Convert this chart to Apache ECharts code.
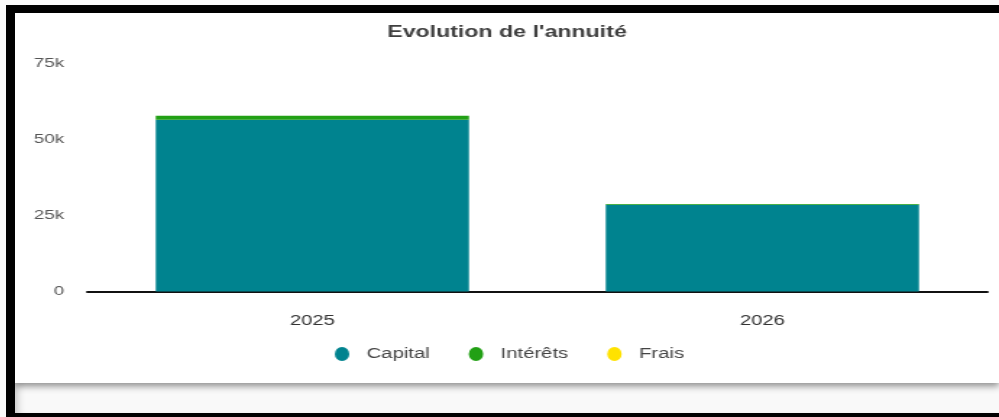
<!DOCTYPE html>
<html>
<head>
<meta charset="utf-8">
<script src="https://cdn.jsdelivr.net/npm/echarts@6/dist/echarts.min.js"></script>
<style>
  html, body { margin: 0; padding: 0; }
  body { width: 999px; height: 417px; background: #fafafa; position: relative; overflow: hidden; }
  #frame {
    position: absolute; left: 6px; top: 5px; width: 1000px; height: 400px;
    border-top: 8px solid #000; border-left: 9px solid #000; border-bottom: 4px solid #000;
    background: #f9f9f9;
    box-shadow: inset 8px 0 8px -6px rgba(0,0,0,0.25);
  }
  #card {
    position: absolute; left: 15px; top: 13px; width: 984px; height: 370px;
    background: #fff; box-shadow: 0 3px 7px rgba(0,0,0,0.45);
    overflow: hidden;
  }
  #chart {
    position: absolute; left: 0; top: 0; width: 680px; height: 370px;
    transform-origin: 0 0; transform: scaleX(1.447);
  }
</style>
</head>
<body>
<div id="frame"></div>
<div id="card"><div id="chart"></div></div>
<script>
// Annual repayment split per year
const years = ['2025', '2026'];
const capital = [56500, 28500];
const interets = [1300, 300];
const frais = [0, 0];
const seriesNames = ['Capital', 'Intérêts', 'Frais'];
const seriesColors = ['#00838f', '#22a015', '#ffe200'];
const yMin = 0, yMax = 75000, yStep = 25000;

// round legend marker (drawn narrow, the chart is widened by CSS)
const dot = 'path://M50,0A50,50,0,1,1,50,100A50,50,0,1,1,50,0Z';
const font = "'Liberation Sans', Arial, sans-serif";

const chart = echarts.init(document.getElementById('chart'), null, { renderer: 'canvas' });
const values = [capital, interets, frais];

chart.setOption({
  animation: false,
  textStyle: { fontFamily: font },
  title: {
    text: "Evolution de l'annuité",
    left: 'center', top: 7,
    textStyle: { fontFamily: font, fontSize: 16, fontWeight: 'bold', color: '#404040' }
  },
  legend: {
    data: seriesNames.map(n => ({ name: n, icon: dot })),
    left: 216, top: 329,
    itemWidth: 10, itemHeight: 14, itemGap: 27,
    symbolKeepAspect: false,
    textStyle: { fontFamily: font, fontSize: 14, color: '#444', padding: [0, 0, 0, 7] }
  },
  grid: { left: 50, right: 8, top: 50.5, bottom: 91.5, containLabel: false },
  xAxis: {
    type: 'category',
    data: years,
    axisLine: { show: true, lineStyle: { color: '#111', width: 2 } },
    axisTick: { show: false },
    axisLabel: { margin: 23, fontFamily: font, fontSize: 14, color: '#333' }
  },
  yAxis: {
    type: 'value',
    min: yMin, max: yMax, interval: yStep,
    axisLine: { show: false },
    axisTick: { show: false },
    splitLine: { show: false },
    axisLabel: {
      margin: 16, fontFamily: font, fontSize: 13, color: '#555',
      formatter: v => v === 0 ? '0' : (v / 1000) + 'k'
    }
  },
  series: seriesNames.map((n, i) => ({
    name: n,
    type: 'bar',
    stack: 'annuite',
    barCategoryGap: '30.4%',
    itemStyle: { color: seriesColors[i] },
    data: values[i]
  }))
});
</script>
</body>
</html>
